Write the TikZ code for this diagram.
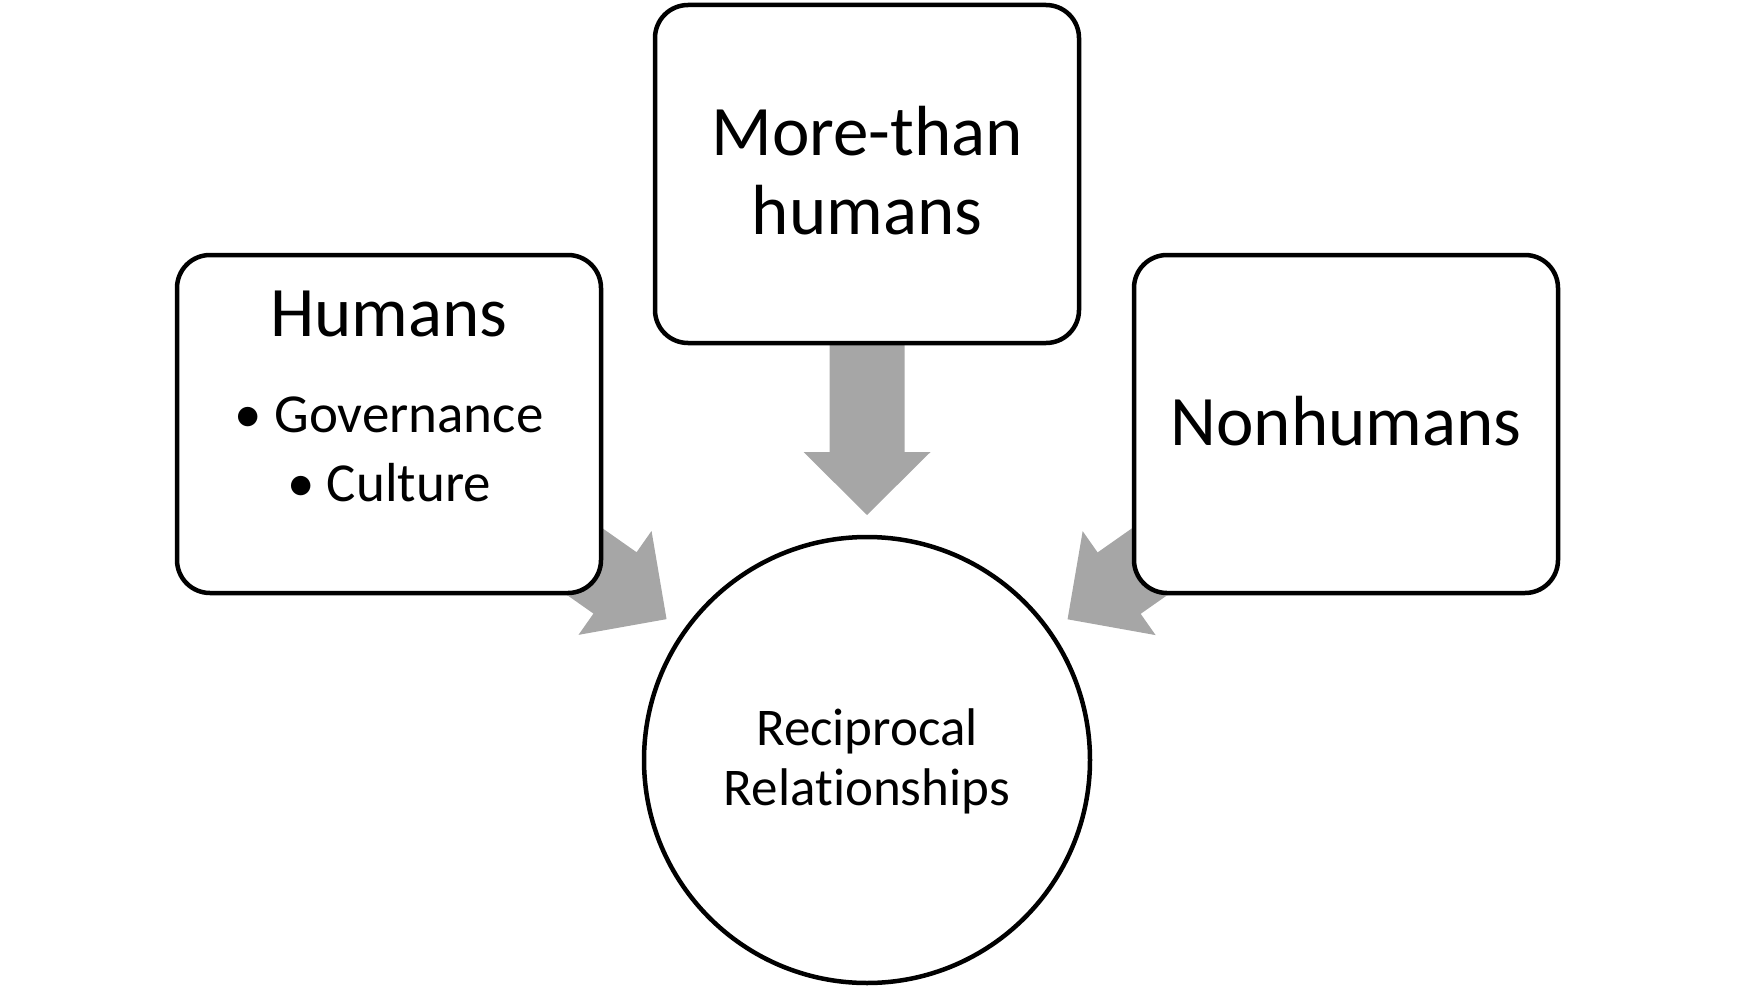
\documentclass[tikz,border=0pt]{standalone}
\usepackage{fontspec}
\setmainfont{Carlito}[Ligatures=NoCommon]
\definecolor{arrowgray}{HTML}{A6A6A6}
\newcommand\titlefont{\fontsize{71}{71}\selectfont}
\newcommand\bulletfont{\fontsize{55}{55}\selectfont}
\newcommand\centerfont{\fontsize{53}{53}\selectfont}
\tikzset{
  box/.style={draw=black, line width=4.5pt, fill=white, rounded corners=33pt,
    minimum width=424pt, minimum height=338pt, inner sep=0pt},
  hub/.style={draw=black, line width=4.5pt, fill=white, circle,
    minimum size=446pt, inner sep=0pt},
  txt/.style={anchor=base, inner sep=0pt, text=black},
  fatarrow/.style={fill=arrowgray, draw=none}
}
% #1 canvas angle of the arrow direction, #2 tail distance from the hub centre
\newcommand\fatarrowat[2]{%
  \fill[fatarrow, shift={(cc)}, rotate=#1]
    (-245,0) -- (-308,63.5) -- (-308,37.5) -- (-#2,37.5)
    -- (-#2,-37.5) -- (-308,-37.5) -- (-308,-63.5) -- cycle;
}
\begin{document}
\begin{tikzpicture}[x=1pt,y=-1pt]
\useasboundingbox (0,0) rectangle (1741,990);
% centres
\coordinate (hbc) at (389,424);
\coordinate (mbc) at (867,174);
\coordinate (nbc) at (1346,424);
\coordinate (cc) at (867,760);
% arrows behind the boxes (each points from a box centre to the hub centre)
\fatarrowat{-35.1}{584}
\fatarrowat{-90}{586}
\fatarrowat{-144.95}{585}
% boxes
\node[box] (hb) at (hbc) {};
\node[box] (mb) at (mbc) {};
\node[box] (nb) at (nbc) {};
\node[hub] (hub) at (cc) {};
% texts
\node[txt, font=\titlefont] (thum) at (389,336) {Humans};
\node[txt, font=\bulletfont] (tgov) at (389,432) {• Governance};
\node[txt, font=\bulletfont] (tcul) at (389,501) {• Culture};
\node[txt, font=\titlefont] (tmore) at (867,155) {More-than};
\node[txt, font=\titlefont] (tmh) at (867,234) {humans};
\node[txt, font=\titlefont] (tnon) at (1346,445) {Nonhumans};
\node[txt, font=\centerfont] (trec) at (867,745) {Reciprocal};
\node[txt, font=\centerfont] (trel) at (867,805) {Relationships};
\end{tikzpicture}
\end{document}
